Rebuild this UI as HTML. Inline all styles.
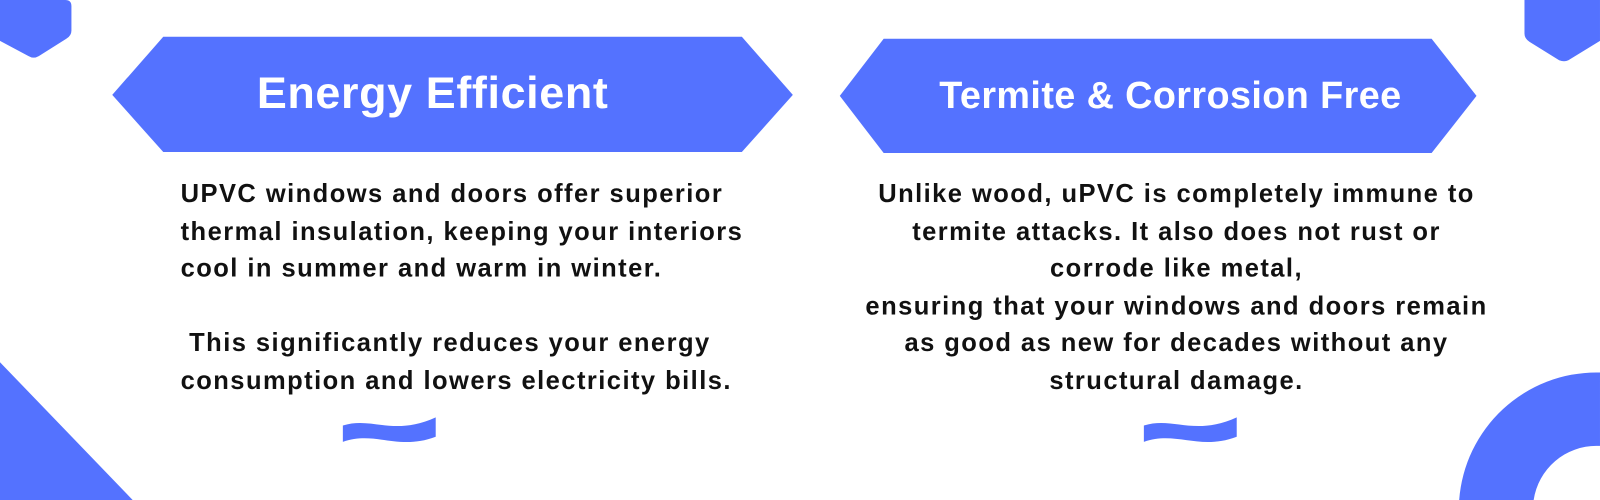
<!DOCTYPE html>
<html><head><style>
body{margin:0;width:1600px;height:500px;background:#fff;overflow:hidden;position:relative;font-family:"Liberation Sans",sans-serif;}
#w{position:absolute;left:0;top:0;width:1568px;height:490px;transform:scale(1.0204);transform-origin:0 0}
svg{position:absolute;left:0;top:0}
.t{position:absolute;font-weight:bold;font-size:25px;letter-spacing:1.42px;color:#111;line-height:36.5px;white-space:nowrap}
.h{position:absolute;color:#fff;font-weight:bold;white-space:nowrap;text-align:center}
</style></head><body><div id="w">
<svg width="1568" height="490" viewBox="0 0 1568 490">
<g fill="#5472FF">
<path d="M0,0 H64 Q70,0 70,6 V30 Q70,35 65,38 L38,55 Q33,58 28,55 L0,40 Z"/>
<path d="M1494,0 H1568 V40 L1537,59 Q1533,61 1528,59 L1499,41 Q1494,38 1494,33 Z"/>
<polygon points="110,93 160,36 727,36 777,93 727,149 160,149"/>
<polygon points="823,94 866,38 1403,38 1447,94 1403,150 866,150"/>
<polygon points="0,355 130,490 0,490"/>
<path d="M1430,490 A135,135 0 0 1 1565,365 L1568,365 V437 L1565,437 A62,62 0 0 0 1503,490 Z"/>
<path d="M336,417 C365,408 385,428 427,409 V428 C390,442 368,422 336,433 Z"/>
<path d="M1121,417 C1150,408 1170,428 1212,409 V428 C1175,442 1153,422 1121,433 Z"/>
</g>
</svg>
<div class="h" style="left:110px;width:628px;top:67px;font-size:44px;letter-spacing:0.6px">Energy Efficient</div>
<div class="h" style="left:823px;width:648px;top:73px;font-size:37px;letter-spacing:0.4px">Termite &amp; Corrosion Free</div>
<div class="t" style="left:177px;top:172px">UPVC windows and doors offer superior<br>thermal insulation, keeping your interiors<br>cool in summer and warm in winter.<br><br>&nbsp;This significantly reduces your energy<br>consumption and lowers electricity bills.</div>
<div class="t" style="left:803px;width:700px;top:172px;text-align:center">Unlike wood, uPVC is completely immune to<br>termite attacks. It also does not rust or<br>corrode like metal,<br>ensuring that your windows and doors remain<br>as good as new for decades without any<br>structural damage.</div>
</div></body></html>
